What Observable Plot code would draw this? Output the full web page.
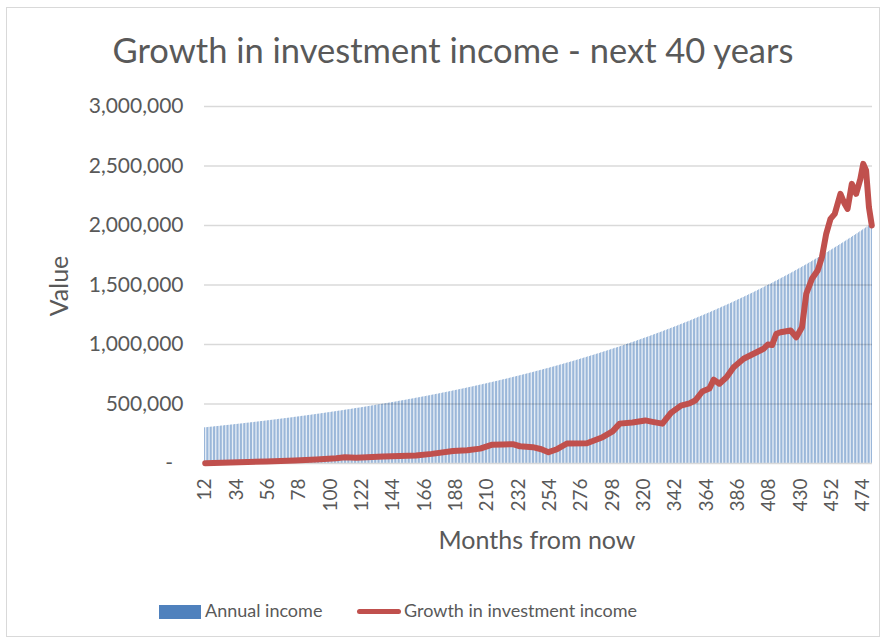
<!DOCTYPE html>
<html><head><meta charset="utf-8">
<script src="https://cdn.jsdelivr.net/npm/d3@7"></script>
<script src="https://cdn.jsdelivr.net/npm/@observablehq/plot@0.6"></script>
<style>
body{margin:0;background:#fff;font-family:Lato,"Open Sans",sans-serif;}
#wrap{position:relative;width:886px;height:642px;overflow:hidden;background:#fff;}
#frame{position:absolute;left:6px;top:7px;width:874px;height:630px;border:1px solid #d9d9d9;box-sizing:border-box;}
#chart{position:absolute;left:0;top:90px;}
.t{position:absolute;color:#595959;white-space:nowrap;line-height:1;}
#title{left:0;width:906px;top:33px;text-align:center;font-size:34.5px;}
#ylab{left:58px;top:286px;font-size:25px;transform:translate(-50%,-50%) rotate(-90deg);}
#xlab{left:537px;top:527px;font-size:25px;transform:translateX(-50%);}
.sw{position:absolute;}
</style>
</head><body>
<div id="wrap">
<div id="frame"></div>
<div class="t" id="title">Growth in investment income - next 40 years</div>
<div class="t" id="ylab">Value</div>
<div class="t" id="xlab">Months from now</div>
<div class="sw" style="left:159px;top:605px;width:42px;height:14px;background:#4f81bd;"></div>
<div class="t" style="left:205px;top:601px;font-size:18px;">Annual income</div>
<div class="sw" style="left:357px;top:609px;width:44px;height:5px;border-radius:3px;background:#c0504d;"></div>
<div class="t" style="left:404px;top:601px;font-size:18px;">Growth in investment income</div>
<div id="chart"></div>
</div>
<script>
// Categories: months from now (first category and one bar per month)
const firstMonth = 12;

// Annual income (thousands), one value per month 12..480
const annualIncomeK = [
300,301,302,304,305,306,307,309,310,311,312,314,
315,316,318,319,320,321,323,324,325,327,328,329,
331,332,333,335,336,338,339,340,342,343,344,346,
347,349,350,352,353,354,356,357,359,360,362,363,
365,366,368,369,371,372,374,375,377,378,380,381,
383,384,386,388,389,391,392,394,396,397,399,400,
402,404,405,407,409,410,412,414,415,417,419,420,
422,424,426,427,429,431,433,434,436,438,440,441,
443,445,447,449,451,452,454,456,458,460,462,464,
465,467,469,471,473,475,477,479,481,483,485,487,
489,491,493,495,497,499,501,503,505,507,509,511,
513,515,517,519,522,524,526,528,530,532,534,537,
539,541,543,545,548,550,552,554,557,559,561,563,
566,568,570,573,575,577,580,582,584,587,589,592,
594,596,599,601,604,606,609,611,614,616,619,621,
624,626,629,631,634,637,639,642,644,647,650,652,
655,658,660,663,666,668,671,674,677,679,682,685,
688,690,693,696,699,702,705,707,710,713,716,719,
722,725,728,731,734,737,740,743,746,749,752,755,
758,761,764,767,771,774,777,780,783,786,790,793,
796,799,802,806,809,812,816,819,822,826,829,832,
836,839,843,846,849,853,856,860,863,867,870,874,
878,881,885,888,892,896,899,903,907,910,914,918,
921,925,929,933,937,940,944,948,952,956,960,964,
968,971,975,979,983,987,991,995,1000,1004,1008,1012,
1016,1020,1024,1028,1033,1037,1041,1045,1050,1054,1058,1062,
1067,1071,1075,1080,1084,1089,1093,1098,1102,1106,1111,1116,
1120,1125,1129,1134,1138,1143,1148,1152,1157,1162,1167,1171,
1176,1181,1186,1190,1195,1200,1205,1210,1215,1220,1225,1230,
1235,1240,1245,1250,1255,1260,1265,1270,1276,1281,1286,1291,
1297,1302,1307,1313,1318,1323,1329,1334,1339,1345,1350,1356,
1361,1367,1373,1378,1384,1389,1395,1401,1406,1412,1418,1424,
1429,1435,1441,1447,1453,1459,1465,1471,1477,1483,1489,1495,
1501,1507,1513,1519,1526,1532,1538,1544,1551,1557,1563,1570,
1576,1582,1589,1595,1602,1608,1615,1622,1628,1635,1641,1648,
1655,1662,1668,1675,1682,1689,1696,1703,1710,1717,1724,1731,
1738,1745,1752,1759,1766,1773,1780,1788,1795,1802,1810,1817,
1824,1832,1839,1847,1854,1862,1869,1877,1885,1892,1900,1908,
1916,1923,1931,1939,1947,1955,1963,1971,1979,1987,1995,2003,
2011
];

// Growth in investment income (thousands), read at these months
const growthMonths = [12,30,55,75,90,104,110,118,137,160,171,186,196,205,213,221,228,233,242,248,253,259,266,280,291,298,303,312,321,326,333,339,346,352,356,361,366,369,373,378,383,390,397,404,407,410,413,416,423,427,431,434,438,442,445,448,451,454,458,461,463,466,469,472,474,476,478,480];
const growthValuesK = [3,8,17,25,34,45,53,49,59,67,81,105,112,125,157,160,162,145,137,120,95,120,168,170,221,270,335,345,362,350,335,425,487,505,529,605,630,705,670,725,809,880,922,964,1000,995,1090,1103,1118,1061,1145,1426,1552,1622,1734,1930,2056,2098,2266,2180,2140,2350,2266,2392,2518,2462,2154,2000];

const xTickLabels = [12,34,56,78,100,122,144,166,188,210,232,254,276,298,320,342,364,386,408,430,452,474];
const yTicks = [0,500000,1000000,1500000,2000000,2500000,3000000];

const months = annualIncomeK.map((_, i) => firstMonth + i);
const bars = months.map((m, i) => ({month: m, income: annualIncomeK[i] * 1000}));
const growth = growthMonths.map((m, i) => ({month: m, value: growthValuesK[i] * 1000}));

const chart = Plot.plot({
  width: 886, height: 480,
  marginTop: 16, marginBottom: 107, marginLeft: 204, marginRight: 14,
  style: {background: "transparent", fontFamily: "Lato, sans-serif", color: "#595959", overflow: "visible"},
  x: {type: "band", domain: months, paddingInner: 0.6, paddingOuter: 0.3, round: false},
  y: {domain: [0, 3000000]},
  marks: [
    Plot.barY(bars, {x: "month", y: "income", fill: "#4f81bd"}),
    Plot.ruleY(yTicks.slice(1), {stroke: "#000", strokeOpacity: 0.15, strokeWidth: 1.3}),
    Plot.ruleY([0], {stroke: "#d9d9d9", strokeWidth: 1.5}),
    Plot.line(growth, {x: "month", y: "value", stroke: "#c0504d", strokeWidth: 6, strokeLinejoin: "round", strokeLinecap: "round"}),
    Plot.axisX({ticks: xTickLabels, tickRotate: -90, tickSize: 0, tickPadding: 15, fontSize: 19, label: null, color: "#595959"}),
    Plot.axisY({ticks: yTicks, tickSize: 0, tickPadding: 21, fontSize: 21, label: null, color: "#595959",
      tickFormat: d => d === 0 ? "-\u2002" : d3.format(",")(d)})
  ]
});
document.getElementById("chart").appendChild(chart);
</script>
</body></html>
